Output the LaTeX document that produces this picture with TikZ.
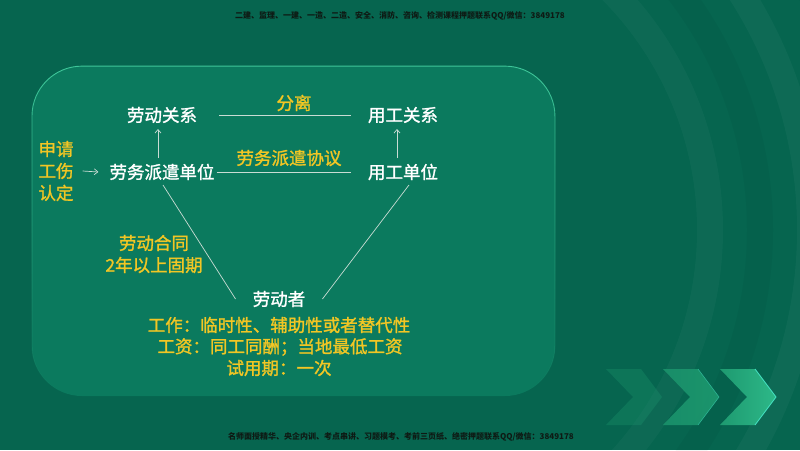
\documentclass[tikz,border=0pt]{standalone}
\usepackage{fontspec}
\setmainfont{Noto Sans CJK SC}
\newfontfamily\medcjk{Noto Sans CJK SC}[FakeBold=1.4]
\usetikzlibrary{arrows.meta,fadings}
\definecolor{bg}{HTML}{06654F}
\definecolor{boxfill}{HTML}{0B7A5E}
\definecolor{boxedge}{HTML}{3FC79A}
\definecolor{gold}{HTML}{F2C624}
\definecolor{linec}{HTML}{C9DCD4}
\definecolor{hdr}{HTML}{0E1A14}
\definecolor{chevA}{HTML}{1E9A70}
\definecolor{chevB}{HTML}{2DB888}
\definecolor{chevEdge}{HTML}{45E3C4}
\tikzset{x=1pt,y=-1pt,
 wt/.style={text=white,font=\fontsize{17.5}{20}\selectfont\medcjk,inner sep=0pt},
 yl/.style={text=gold,font=\fontsize{17.5}{22}\selectfont\medcjk,inner sep=0pt},
 conn/.style={draw=linec,line width=0.7pt},
 arr/.style={conn,-{Straight Barb[length=3.5pt,width=6pt]}},
 hd/.style={text=hdr,font=\fontsize{8}{9}\selectfont\bfseries,inner sep=0pt}}
\begin{document}
\begin{tikzpicture}
\fill[bg] (0,0) rectangle (800,450);
\useasboundingbox (0,0) rectangle (800,450);
% background arcs
\begin{scope}
\clip (520,0) rectangle (800,450);
\foreach \r/\c/\o in {340/white/0.03, 390/black/0.035, 440/white/0.035, 500/black/0.03, 560/white/0.035, 620/black/0.025}
  \draw[\c,opacity=\o,line width=26pt] (370,230) circle (\r);
\end{scope}
% main box
\fill[boxfill,rounded corners=50pt] (32,66) rectangle (555,396);
\draw[boxedge,line width=0.9pt,rounded corners=50pt,path fading=south] (32,66) rectangle (555,396);
% header & footer
\node[hd] (hdr) at (400,16) {二建、监理、一建、一造、二造、安全、消防、咨询、检测课程押题联系QQ/微信：3849178};
\node[hd] (ftr) at (401,437) {名师面授精华、央企内训、考点串讲、习题模考、考前三页纸、绝密押题联系QQ/微信：3849178};
% nodes
\node[wt] (ldgx) at (162,115) {劳动关系};
\node[wt] (yggx) at (403,115) {用工关系};
\node[wt] (lwpq) at (162,172) {劳务派遣单位};
\node[wt] (ygdw) at (403,172) {用工单位};
\node[wt] (ldz) at (279,299) {劳动者};
\node[yl,align=left] (sq) at (56,171) {申请\\工伤\\认定};
\node[yl] (fl) at (294,103) {分离};
\node[yl] (xy) at (289,158) {劳务派遣协议};
\node[yl] (ht1) at (154,243) {劳动合同};
\node[yl] (ht2) at (154,265) {2年以上固期};
\node[yl] (gz) at (279,325) {工作：临时性、辅助性或者替代性};
\node[yl] (gzi) at (280,347) {工资：同工同酬；当地最低工资};
\node[yl] (syq) at (279,368) {试用期：一次};
% connectors
\draw[conn] ([xshift=22pt]ldgx.east) -- ([xshift=-17pt]yggx.west);
\draw[conn] ([xshift=2pt]lwpq.east) -- ([xshift=-17pt]ygdw.west);
\draw[arr] ([shift={(-4,-14)}]lwpq.center) -- ([shift={(-4,14)}]ldgx.center);
\draw[arr] ([shift={(-6,-14)}]ygdw.center) -- ([shift={(-6,14)}]yggx.center);
\draw[arr] ([xshift=9pt]sq.east) -- ([xshift=-11pt]lwpq.west);
\draw[conn] ([shift={(1,13)}]lwpq.center) -- ([xshift=-17pt]ldz.west);
\draw[conn] ([shift={(6,13)}]ygdw.center) -- ([xshift=17pt]ldz.east);
% chevrons
\fill[chevA,opacity=0.3] (606,369) -- (641,369) -- (662,397) -- (641,425) -- (606,425) -- (633,397) -- cycle;
\shade[left color=chevA!85!bg,right color=chevA,opacity=0.9] (663,369) -- (698,369) -- (719,397) -- (698,425) -- (663,425) -- (690,397) -- cycle;
\draw[chevEdge,opacity=0.5,line width=0.6pt] (698,369) -- (719,397) -- (698,425);
\shade[left color=chevA,right color=chevB] (720,369) -- (755,369) -- (776,397) -- (755,425) -- (720,425) -- (747,397) -- cycle;
\draw[chevEdge,line width=0.8pt] (755,369) -- (776,397) -- (755,425);
\end{tikzpicture}
\end{document}
